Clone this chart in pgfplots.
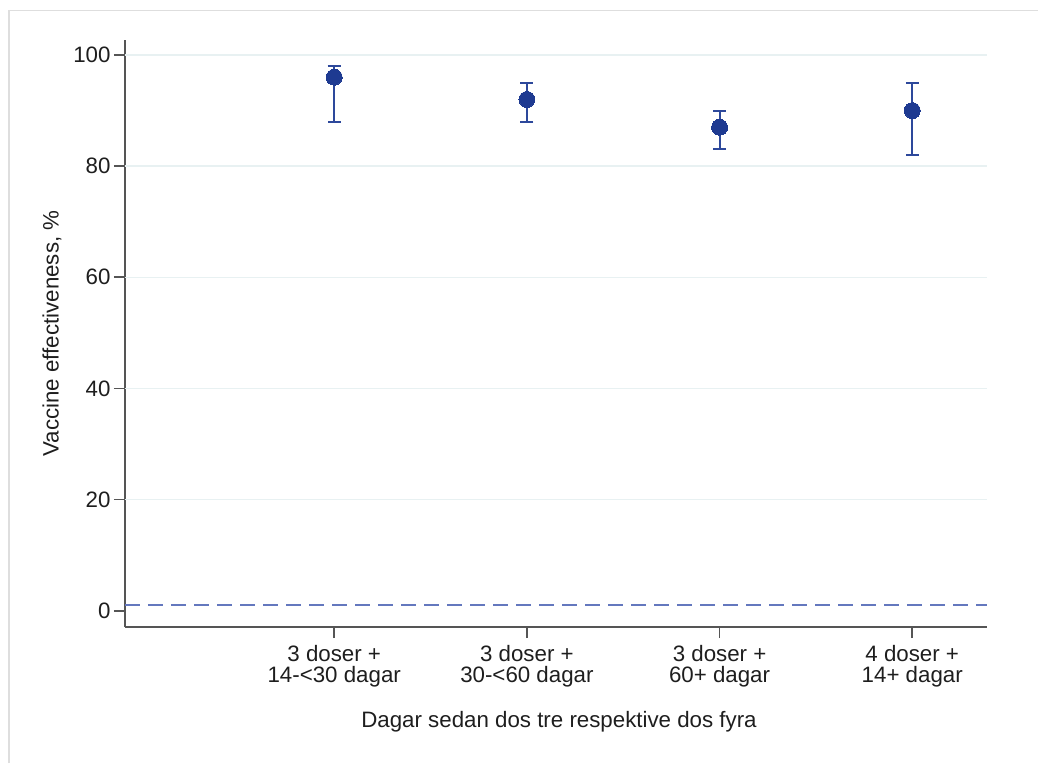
\documentclass[border=0pt]{standalone}
\usepackage{fontspec}
\setmainfont{Liberation Sans}
\usepackage{pgfplots}
\pgfplotsset{compat=1.18}
\definecolor{navy}{RGB}{30,58,145}
\definecolor{ebcol}{RGB}{45,72,155}
\definecolor{dashcol}{RGB}{100,120,190}
\definecolor{gridcol}{RGB}{232,241,242}
\definecolor{axcol}{RGB}{85,85,85}
\definecolor{txt}{RGB}{30,30,30}
\definecolor{frame}{RGB}{222,222,222}
\begin{document}
\begin{tikzpicture}
\begin{axis}[
  at={(0pt,0pt)}, anchor=south west,
  scale only axis, width=862pt, height=587pt,
  xmin=-0.086, xmax=4.388, ymin=-2.93, ymax=102.7,
  axis x line*=bottom, axis y line*=left,
  axis line style={line width=1.8pt, color=axcol},
  tick align=outside,
  major tick length=11pt,
  tick style={line width=1.6pt, color=axcol},
  xtick={1,2,3,4},
  xticklabels={{3 doser +\\14-<30 dagar},{3 doser +\\30-<60 dagar},{3 doser +\\60+ dagar},{4 doser +\\14+ dagar}},
  xticklabel style={align=center, font=\fontsize{22.3}{21}\selectfont, text=txt, yshift=-4pt},
  ytick={0,20,40,60,80,100},
  yticklabel style={font=\fontsize{22.3}{21}\selectfont, text=txt, /pgf/number format/assume math mode=true, xshift=0pt},
  extra y ticks={20,40,60,80,100},
  extra y tick labels={},
  extra y tick style={ymajorgrids=true, major tick length=0pt},
  major grid style={line width=1.5pt, color=gridcol},
  ylabel={Vaccine effectiveness, \%},
  ylabel style={at={(axis description cs:-0.0847,0.5)}, anchor=center, rotate=0, font=\fontsize{22.3}{21}\selectfont, text=txt},
  xlabel={Dagar sedan dos tre respektive dos fyra},
  xlabel style={at={(axis description cs:0.5035,-0.172)}, anchor=base, font=\fontsize{22.3}{21}\selectfont, text=txt},
  clip=false,
]
\addplot[color=dashcol, line width=1.6pt, dash pattern=on 15pt off 8pt] coordinates {(-0.086,1) (4.388,1)};
\addplot[only marks, mark=*, mark size=8pt, mark options={fill=navy, draw=navy, line width=0pt},
  error bars/.cd, y dir=both, y explicit,
  error bar style={line width=2pt, color=ebcol},
  error mark options={rotate=90, mark size=6.5pt, line width=2pt, color=ebcol}]
coordinates {
  (1,96) += (0,2) -= (0,8)
  (2,92) += (0,3) -= (0,4)
  (3,87) += (0,3) -= (0,4)
  (4,90) += (0,5) -= (0,8)
};
\end{axis}
\draw[frame, line width=1.5pt] (-116pt,-136pt) -- (-116pt,616.5pt) -- (913pt,616.5pt);
\pgfresetboundingbox
\path (-125pt,-136pt) rectangle (913pt,627pt);
\end{tikzpicture}
\end{document}
